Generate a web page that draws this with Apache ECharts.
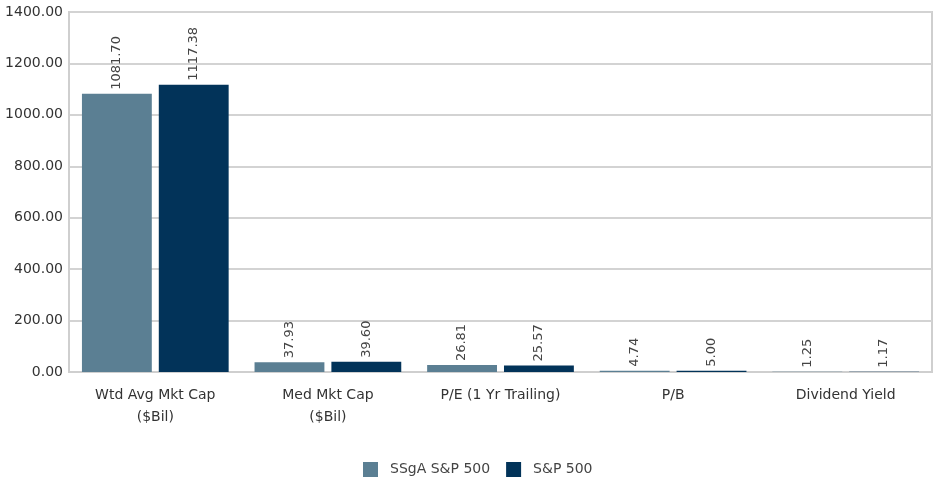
<!DOCTYPE html>
<html><head><meta charset="utf-8">
<script src="https://cdn.jsdelivr.net/npm/echarts@6/dist/echarts.min.js"></script>
<style>html,body{margin:0;padding:0;background:#fff}#c{width:934px;height:479px}</style>
</head><body><div id="c"></div>
<script>
var categories = ["Wtd Avg Mkt Cap\n($Bil)", "Med Mkt Cap\n($Bil)", "P/E (1 Yr Trailing)", "P/B", "Dividend Yield"];
var ssgaValues = [1081.70, 37.93, 26.81, 4.74, 1.25];
var spValues = [1117.38, 39.60, 25.57, 5.00, 1.17];
var seriesNames = ["SSgA S&P 500", "S&P 500"];
var FONT = "DejaVu Sans";
var chart = echarts.init(document.getElementById('c'));
function lbl() {
  return {show: true, position: 'top', rotate: 90, align: 'left', verticalAlign: 'middle', distance: 4,
    color: '#444', fontFamily: FONT, fontSize: 13,
    formatter: function(p){ return p.value.toFixed(2); }};
}
chart.setOption({
  animation: false,
  color: ['#5b7f93', '#023359'],
  grid: {left: 69, right: 2, top: 12, bottom: 107, show: true, borderColor: '#cfcfcf', borderWidth: 2},
  legend: {top: 457, left: 358, itemWidth: 15, itemHeight: 15, itemGap: 16,
    textStyle: {fontFamily: FONT, fontSize: 14, color: '#444', padding: [0, 0, 0, 7]}, data: seriesNames, icon: 'rect'},
  xAxis: {type: 'category', data: categories,
    axisLine: {lineStyle: {color: '#cfcfcf', width: 2}}, axisTick: {show: false},
    axisLabel: {fontFamily: FONT, fontSize: 14, color: '#333', margin: 12, lineHeight: 22}},
  yAxis: {type: 'value', min: 0, max: 1400, interval: 200,
    axisLine: {show: true, lineStyle: {color: '#cfcfcf', width: 2}},
    splitLine: {lineStyle: {color: '#d3d3d3', width: 2}},
    axisLabel: {fontFamily: FONT, fontSize: 14, color: '#333', margin: 6,
      formatter: function(v){ return v.toFixed(2); }}},
  series: [
    {name: seriesNames[0], type: 'bar', data: ssgaValues, barGap: '10%', barCategoryGap: '15%', label: lbl()},
    {name: seriesNames[1], type: 'bar', data: spValues, label: lbl()}
  ]
});
</script></body></html>
